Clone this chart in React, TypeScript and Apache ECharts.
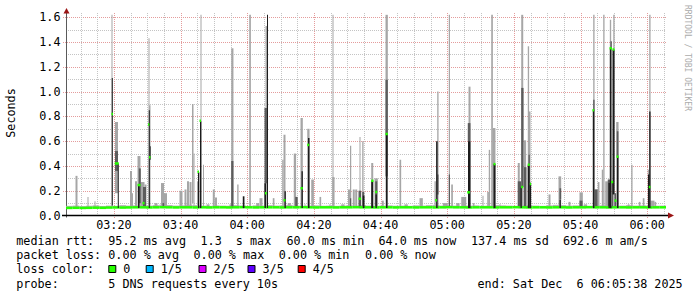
import React, { useEffect, useRef } from "react";
import * as echarts from "echarts";

// ---------- data ----------
const START = "03:05:38";
const END = "06:05:38";
const Y_MAX = 1.6347;
const xTickLabels = ["03:20", "03:40", "04:00", "04:20", "04:40", "05:00", "05:20", "05:40", "06:00"];
const yTickLabels = ["0.0", "0.2", "0.4", "0.6", "0.8", "1.0", "1.2", "1.4", "1.6"];

// baseline, 2-minute bins starting at START (milliseconds)
const BASE_STEP_SEC = 120;
const baseMedianMs = [
  61, 62, 61, 62, 63, 62, 64, 65, 64, 65,
  66, 66, 65, 66, 67, 66, 65, 66, 66, 65,
  66, 65, 66, 66, 65, 66, 67, 66, 65, 66,
  66, 66, 65, 66, 66, 67, 66, 65, 66, 66,
  65, 66, 66, 67, 66, 66, 65, 66, 66, 65,
  66, 66, 65, 66, 66, 65, 66, 67, 66, 66,
  65, 66, 66, 66, 65, 66, 66, 67, 66, 65,
  66, 66, 65, 66, 66, 65, 66, 66, 67, 66,
  66, 65, 66, 66, 65, 66, 66, 65, 66, 66,
];
const baseTopMs = [
  78, 80, 76, 79, 82, 77, 80, 78, 84, 80,
  82, 86, 80, 84, 88, 85, 80, 82, 86, 84,
  80, 78, 82, 80, 79, 84, 80, 78, 82, 80,
  84, 80, 82, 86, 80, 78, 80, 82, 79, 80,
  78, 80, 82, 80, 84, 80, 78, 80, 82, 79,
  80, 78, 82, 80, 84, 86, 80, 82, 80, 78,
  80, 82, 79, 80, 84, 82, 80, 78, 80, 82,
  80, 78, 82, 86, 84, 80, 82, 80, 78, 80,
  82, 80, 78, 80, 84, 80, 82, 80, 79, 80,
];

// smoke columns: [start time, seconds wide, low (s), high (s)]
const lightSmoke: [string, number, number, number][] = [
  ["03:08:29", 36, 0.06, 0.32], ["03:12:05", 18, 0.06, 0.15], ["03:14:11", 18, 0.06, 0.115],
  ["03:19:17", 18, 0.07, 1.62], ["03:20:20", 54, 0.18, 0.755], ["03:24:50", 36, 0.06, 0.36],
  ["03:25:26", 18, 0.06, 0.18], ["03:26:20", 36, 0.06, 0.276], ["03:27:05", 54, 0.08, 0.48],
  ["03:27:59", 72, 0.06, 0.27], ["03:29:11", 36, 0.06, 0.25], ["03:30:23", 18, 0.07, 1.43],
  ["03:30:32", 27, 0.07, 0.89], ["03:32:11", 54, 0.06, 0.1], ["03:34:08", 54, 0.06, 0.262],
  ["03:35:02", 54, 0.06, 0.18], ["03:39:41", 54, 0.06, 0.2], ["03:41:11", 36, 0.06, 0.21],
  ["03:41:56", 36, 0.06, 0.276], ["03:42:41", 36, 0.06, 0.27], ["03:43:26", 27, 0.1, 0.9],
  ["03:43:53", 18, 0.08, 0.5], ["03:44:56", 27, 0.06, 0.27], ["03:45:59", 18, 0.07, 1.62],
  ["03:46:44", 18, 0.06, 0.41], ["03:47:47", 54, 0.06, 0.09], ["03:49:40", 36, 0.06, 0.21],
  ["03:50:20", 36, 0.06, 0.145], ["03:54:41", 36, 0.06, 0.09], ["03:55:12", 40, 0.06, 1.35],
  ["03:57:00", 24, 0.06, 0.25], ["04:00:36", 30, 0.06, 1.62], ["04:02:42", 54, 0.06, 0.1],
  ["04:03:41", 54, 0.06, 0.14], ["04:05:02", 27, 0.06, 0.26], ["04:05:29", 36, 0.06, 1.53],
  ["04:07:40", 30, 0.06, 0.14], ["04:10:30", 24, 0.06, 0.45], ["04:10:53", 36, 0.06, 0.652],
  ["04:12:10", 54, 0.06, 0.1], ["04:13:58", 42, 0.06, 0.5], ["04:14:29", 42, 0.06, 0.15],
  ["04:15:59", 42, 0.06, 0.787], ["04:17:11", 18, 0.06, 0.09], ["04:18:00", 42, 0.06, 0.7],
  ["04:19:12", 48, 0.06, 0.29], ["04:21:41", 30, 0.06, 0.15], ["04:24:41", 18, 0.06, 0.09],
  ["04:25:30", 42, 0.06, 0.31], ["04:25:35", 18, 0.07, 1.62], ["04:28:12", 60, 0.06, 0.09],
  ["04:30:14", 36, 0.06, 0.21], ["04:30:50", 22, 0.06, 0.563], ["04:31:40", 36, 0.06, 0.21],
  ["04:32:24", 36, 0.06, 0.21], ["04:33:41", 18, 0.06, 0.634], ["04:34:30", 24, 0.06, 0.6],
  ["04:37:12", 36, 0.06, 0.424], ["04:38:11", 60, 0.06, 0.3], ["04:40:22", 36, 0.06, 0.12],
  ["04:41:29", 42, 0.06, 1.62], ["04:45:41", 30, 0.06, 0.45], ["04:47:11", 60, 0.06, 0.09],
  ["04:51:41", 60, 0.06, 0.14], ["04:56:11", 24, 0.06, 0.276], ["04:57:00", 24, 0.06, 1.0],
  ["04:58:40", 90, 0.06, 0.1], ["05:00:28", 22, 0.06, 1.62], ["05:01:12", 30, 0.06, 0.25],
  ["05:02:42", 60, 0.06, 0.1], ["05:04:12", 90, 0.06, 0.15], ["05:06:23", 36, 0.06, 1.04],
  ["05:07:40", 30, 0.06, 0.1], ["05:10:35", 18, 0.06, 0.16], ["05:12:00", 30, 0.06, 0.19],
  ["05:12:28", 24, 0.06, 0.53], ["05:13:12", 30, 0.06, 1.62], ["05:13:40", 48, 0.06, 0.706],
  ["05:15:41", 18, 0.06, 0.09], ["05:21:10", 36, 0.06, 0.424], ["05:22:12", 36, 0.06, 1.62],
  ["05:22:58", 42, 0.06, 0.607], ["05:23:42", 18, 0.06, 0.39], ["05:24:10", 24, 0.06, 1.366],
  ["05:24:23", 36, 0.06, 0.84], ["05:24:46", 24, 0.06, 0.27], ["05:30:23", 36, 0.06, 0.17],
  ["05:33:23", 48, 0.06, 0.316], ["05:36:23", 36, 0.06, 0.11], ["05:39:41", 60, 0.06, 0.187],
  ["05:40:58", 60, 0.06, 0.09], ["05:43:48", 24, 0.06, 1.62], ["05:44:11", 60, 0.06, 0.21],
  ["05:45:10", 30, 0.06, 0.27], ["05:46:22", 24, 0.06, 0.37], ["05:46:48", 24, 0.06, 1.62],
  ["05:47:24", 48, 0.06, 0.276], ["05:48:11", 30, 0.06, 0.29], ["05:48:47", 24, 0.06, 1.58],
  ["05:49:49", 24, 0.06, 1.62], ["05:50:11", 30, 0.06, 0.12], ["05:50:42", 42, 0.06, 0.755],
  ["05:54:10", 30, 0.06, 0.09], ["05:55:12", 24, 0.06, 0.41], ["05:57:28", 30, 0.06, 0.11],
  ["05:58:40", 30, 0.06, 0.14], ["06:00:10", 24, 0.06, 0.37], ["06:00:36", 24, 0.06, 1.62],
  ["06:00:59", 72, 0.06, 0.12], ["06:02:11", 30, 0.06, 0.11],
];
const midSmoke: [string, number, number, number][] = [
  ["03:20:20", 54, 0.36, 0.52], ["03:27:28", 36, 0.1, 0.38], ["03:28:44", 54, 0.07, 0.23],
  ["03:30:50", 18, 0.45, 0.56], ["03:34:35", 30, 0.06, 0.1], ["03:55:12", 40, 0.06, 0.44],
  ["04:05:11", 48, 0.26, 0.868], ["04:14:24", 42, 0.06, 0.15], ["04:30:50", 22, 0.06, 0.14],
  ["04:33:23", 48, 0.06, 0.2], ["04:34:30", 36, 0.06, 0.19], ["04:38:24", 36, 0.06, 0.276],
  ["04:41:29", 42, 0.316, 1.096], ["04:57:00", 24, 0.17, 0.33], ["05:00:28", 22, 0.06, 0.33],
  ["05:06:10", 48, 0.6, 0.746], ["05:21:10", 60, 0.06, 0.276], ["05:22:12", 42, 0.23, 1.03],
  ["05:22:58", 42, 0.06, 0.39], ["05:24:23", 24, 0.41, 0.49], ["05:33:41", 30, 0.13, 0.22],
  ["05:39:41", 54, 0.06, 0.12], ["05:43:48", 24, 0.85, 0.935], ["05:44:11", 54, 0.06, 0.21],
  ["05:48:11", 48, 0.06, 0.29], ["05:48:59", 24, 1.35, 1.406], ["05:49:22", 24, 0.06, 0.276],
  ["05:50:11", 30, 0.06, 0.18], ["05:50:52", 30, 0.478, 0.68],
];
const darkSmoke: [string, number, number, number][] = [
  ["03:19:22", 18, 0.08, 1.11], ["03:21:10", 18, 0.06, 0.42], ["03:27:14", 27, 0.06, 0.25],
  ["03:30:28", 18, 0.06, 0.85], ["03:45:14", 24, 0.06, 0.35], ["03:45:50", 24, 0.06, 0.76],
  ["03:58:40", 30, 0.06, 0.155], ["04:05:11", 27, 0.06, 0.26], ["04:05:56", 18, 0.06, 1.62],
  ["04:11:11", 24, 0.06, 0.195], ["04:16:17", 24, 0.06, 0.357], ["04:18:14", 27, 0.06, 0.625],
  ["04:34:40", 30, 0.06, 0.16], ["04:37:12", 36, 0.06, 0.276], ["04:38:29", 24, 0.06, 0.17],
  ["04:41:38", 27, 0.06, 0.652], ["04:56:40", 27, 0.06, 0.6], ["05:06:14", 45, 0.06, 0.6],
  ["05:13:53", 36, 0.06, 0.415], ["05:21:59", 24, 0.06, 0.227], ["05:24:10", 36, 0.06, 0.41],
  ["05:24:46", 24, 0.06, 0.254], ["05:33:41", 24, 0.06, 0.128], ["05:43:40", 30, 0.06, 0.854],
  ["05:48:23", 24, 0.06, 0.262], ["05:48:47", 30, 0.06, 1.35], ["05:49:35", 36, 0.17, 1.338],
  ["05:50:56", 27, 0.06, 0.478], ["06:00:14", 27, 0.06, 0.33], ["06:00:36", 24, 0.06, 0.84],
];
// median dashes away from the baseline: [start time, seconds wide, median (s)]
const medianMarks: [string, number, number][] = [
  ["03:19:17", 27, 0.82], ["03:20:16", 72, 0.42], ["03:27:05", 54, 0.246], ["03:28:35", 36, 0.1],
  ["03:30:14", 24, 0.735], ["03:30:32", 27, 0.47], ["03:45:05", 27, 0.353], ["03:45:41", 27, 0.765],
  ["04:05:20", 30, 0.18], ["04:10:53", 36, 0.123], ["04:15:59", 42, 0.22], ["04:18:00", 36, 0.57],
  ["04:33:23", 48, 0.135], ["04:37:12", 42, 0.28], ["04:38:24", 36, 0.19], ["04:41:29", 42, 0.658],
  ["04:56:24", 30, 0.123], ["05:06:00", 48, 0.187], ["05:13:53", 36, 0.415], ["05:22:12", 36, 0.23],
  ["05:24:10", 36, 0.41], ["05:24:46", 24, 0.254], ["05:43:35", 30, 0.85], ["05:48:41", 42, 1.35],
  ["05:49:12", 36, 0.27], ["05:49:35", 36, 1.34], ["05:50:11", 36, 0.12], ["05:50:47", 36, 0.475],
  ["06:00:28", 30, 0.23],
];

// legend texts
const legendRow1 = ["median rtt:  95.2 ms avg", "1.3  s max", "60.0 ms min  64.0 ms now", "137.4 ms sd  692.6 m am/s"];
const legendRow2 = ["packet loss: 0.00 % avg", "0.00 % max", "0.00 % min", "0.00 % now"];
const lossLabels = ["0", "1/5", "2/5", "3/5", "4/5"];
const probeText = "probe:       5 DNS requests every 10s";
const endText = "end: Sat Dec  6 06:05:38 2025";

// ---------- layout / style ----------
const FONT = '11.76px "DejaVu Sans Mono", monospace';
const row1X = [16.3, 200.5, 286.5, 471];
const row2X = [16.3, 193.5, 278.7, 365];
const lossBoxX = [108.3, 145.7, 198.5, 247.5, 297.7];
const lossColors = ["#26ff00", "#00b8ff", "#dd00ff", "#5e00ff", "#ff0000"];
const rowY = [241, 255, 269, 283.5];
const MAJOR = "#e49c9c";
const MINOR = "#c4c4c4";
const ARROW = "#9b1515";
const X_MINOR = 300;
const X_MAJOR = 1200;
const Y_MINOR = 0.1;

const toSec = (s: string) => {
  const p = s.split(":").map(Number);
  return p[0] * 3600 + p[1] * 60 + (p[2] || 0);
};
const tMin = toSec(START);
const tMax = toSec(END);

const toRects = (arr: [string, number, number, number][]) =>
  arr.map(([t, w, lo, hi]) => [toSec(t), toSec(t) + w, lo, hi]);

const rectRenderer = (fill: string) => (_p: any, api: any) => {
  const a = api.coord([api.value(0), api.value(3)]);
  const b = api.coord([api.value(1), api.value(2)]);
  return {
    type: "rect",
    shape: { x: a[0], y: a[1], width: Math.max(b[0] - a[0], 1), height: Math.max(b[1] - a[1], 0.8) },
    style: { fill },
  };
};
const dashRenderer = (fill: string) => (_p: any, api: any) => {
  const a = api.coord([api.value(0), api.value(2)]);
  const b = api.coord([api.value(1), api.value(2)]);
  return {
    type: "rect",
    shape: { x: a[0], y: a[1] - 1.25, width: Math.max(b[0] - a[0], 1), height: 2.5 },
    style: { fill },
  };
};

const gridRenderer = (_p: any, api: any) => {
  const children: any[] = [];
  const [xL, yB] = api.coord([tMin, 0]);
  const [xR, yT] = api.coord([tMax, Y_MAX]);
  const snap = (v: number) => Math.round(v) + 0.5;
  for (let k = 1; k * Y_MINOR < Y_MAX; k++) {
    const y = snap(api.coord([tMin, k * Y_MINOR])[1]);
    const major = k % 2 === 0;
    children.push({
      type: "line",
      shape: { x1: major ? xL - 3 : xL, y1: y, x2: xR, y2: y },
      style: { stroke: major ? MAJOR : MINOR, lineWidth: 1, lineDash: [1, 1] },
    });
  }
  for (let t = Math.ceil(tMin / X_MINOR) * X_MINOR; t < tMax; t += X_MINOR) {
    const x = snap(api.coord([t, 0])[0]);
    const major = t % X_MAJOR === 0;
    children.push({
      type: "line",
      shape: { x1: x, y1: yT, x2: x, y2: major ? yB + 3 : yB },
      style: { stroke: major ? MAJOR : MINOR, lineWidth: 1, lineDash: [1, 1] },
    });
  }
  xTickLabels.forEach((lab) => {
    const x = api.coord([toSec(lab), 0])[0];
    children.push({
      type: "text",
      x,
      y: yB + 9,
      style: { text: lab, font: FONT, fill: "#000", align: "center", verticalAlign: "middle", textAlign: "center", textVerticalAlign: "middle" },
    });
  });
  yTickLabels.forEach((lab) => {
    const y = api.coord([tMin, Number(lab)])[1];
    children.push({
      type: "text",
      x: xL - 5.5,
      y,
      style: { text: lab, font: FONT, fill: "#000", align: "right", verticalAlign: "middle", textAlign: "right", textVerticalAlign: "middle" },
    });
  });
  const ax = Math.round(xL) + 0.5;
  children.push({ type: "line", shape: { x1: ax, y1: yB + 2, x2: ax, y2: yT }, style: { stroke: "#5a5a5a", lineWidth: 1 } });
  children.push({ type: "polygon", shape: { points: [[ax - 3, yT + 0.5], [ax + 3, yT + 0.5], [ax, yT - 5]] }, style: { fill: ARROW } });
  children.push({ type: "line", shape: { x1: xL - 4, y1: yB, x2: xR + 2, y2: yB }, style: { stroke: "#000", lineWidth: 1.5 } });
  children.push({ type: "polygon", shape: { points: [[xR + 2, yB - 3], [xR + 2, yB + 3], [xR + 8, yB]] }, style: { fill: ARROW } });
  return { type: "group", children };
};

const txt = (text: string, x: number, y: number, extra: any = {}) => ({
  type: "text",
  x,
  y,
  silent: true,
  ...extra,
  style: { text, font: FONT, fill: "#000", align: "left", verticalAlign: "middle", textAlign: "left", textVerticalAlign: "middle", ...(extra.style || {}) },
});

function buildOption(): any {
  const baseSmoke = baseMedianMs.map((m, i) => [tMin + i * BASE_STEP_SEC, tMin + (i + 1) * BASE_STEP_SEC, m / 1000, baseTopMs[i] / 1000]);
  const baseDash = baseMedianMs.map((m, i) => [tMin + i * BASE_STEP_SEC, tMin + (i + 1) * BASE_STEP_SEC, m / 1000]);
  const medDash = medianMarks.map(([t, w, v]) => [toSec(t), toSec(t) + w, v]);

  const graphics: any[] = [];
  legendRow1.forEach((s, i) => graphics.push(txt(s, row1X[i], rowY[0])));
  legendRow2.forEach((s, i) => graphics.push(txt(s, row2X[i], rowY[1])));
  graphics.push(txt("loss color:", 16.3, rowY[2]));
  lossLabels.forEach((s, i) => {
    graphics.push({
      type: "rect",
      shape: { x: lossBoxX[i] + 0.5, y: rowY[2] - 3.5, width: 7, height: 7 },
      style: { fill: lossColors[i], stroke: "#000", lineWidth: 1 },
    });
    graphics.push(txt(s, lossBoxX[i] + 15, rowY[2]));
  });
  graphics.push(txt(probeText, 16.3, rowY[3]));
  graphics.push(txt(endText, 477.5, rowY[3]));
  graphics.push(
    txt("Seconds", 11, 113, { rotation: Math.PI / 2, style: { align: "center", textAlign: "center" } })
  );
  graphics.push(
    txt("RRDTOOL / TOBI OETIKER", 687, 5, {
      rotation: -Math.PI / 2,
      style: { font: '8px "DejaVu Sans Mono", monospace', fill: "#ababab" },
    })
  );

  const custom = (name: string, data: any[], renderItem: any, encY: number[]) => ({
    type: "custom",
    name,
    data,
    renderItem,
    encode: { x: [0, 1], y: encY },
    silent: true,
  });

  return {
    animation: false,
    backgroundColor: "#ffffff",
    grid: { left: 66, top: 13, width: 600, height: 202.5 },
    xAxis: {
      type: "value",
      min: tMin,
      max: tMax,
      axisLine: { show: false },
      axisTick: { show: false },
      axisLabel: { show: false },
      splitLine: { show: false },
    },
    yAxis: {
      type: "value",
      min: 0,
      max: Y_MAX,
      axisLine: { show: false },
      axisTick: { show: false },
      axisLabel: { show: false },
      splitLine: { show: false },
    },
    graphic: { elements: graphics },
    series: [
      { type: "custom", name: "grid", data: [[tMin, 0]], renderItem: gridRenderer, encode: { x: 0, y: 1 }, silent: true },
      custom("base smoke", baseSmoke, rectRenderer("#b4b4b4"), [2, 3]),
      custom("smoke", toRects(lightSmoke), rectRenderer("#a6a6a6"), [2, 3]),
      custom("smoke mid", toRects(midSmoke), rectRenderer("#5c5c5c"), [2, 3]),
      custom("median", baseDash, dashRenderer("#26ff00"), [2]),
      custom("smoke dark", toRects(darkSmoke), rectRenderer("#1c1c1c"), [2, 3]),
      custom("median spikes", medDash, dashRenderer("#26ff00"), [2]),
    ],
  };
}

export default function App() {
  const ref = useRef<HTMLDivElement>(null);
  useEffect(() => {
    if (!ref.current) return;
    const chart = echarts.init(ref.current, null, { renderer: "svg" });
    chart.setOption(buildOption());
    return () => chart.dispose();
  }, []);
  return (
    <div
      ref={ref}
      style={{ position: "absolute", left: 0, top: 0, width: 697, height: 297, background: "#ffffff" }}
    />
  );
}
